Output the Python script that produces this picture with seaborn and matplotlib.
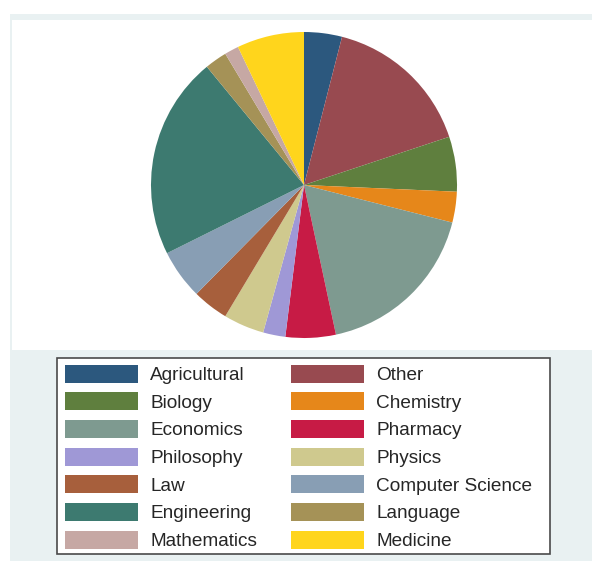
import matplotlib
matplotlib.use("Agg")
import matplotlib.pyplot as plt
from matplotlib.patches import Rectangle
import seaborn as sns

# Field shares (percent), clockwise from 12 o'clock
fields = ["Agricultural", "Other", "Biology", "Chemistry", "Economics",
          "Pharmacy", "Philosophy", "Physics", "Law", "Computer Science",
          "Engineering", "Language", "Mathematics", "Medicine"]
shares = [4.0, 15.9, 5.8, 3.25, 17.7, 5.3, 2.35, 4.3, 3.8, 5.25, 21.4, 2.35, 1.5, 7.1]
colors = ["#2C587E", "#984A50", "#5F7F3E", "#E6871A", "#7E9A90", "#C71B45",
          "#9F98D6", "#CFC98E", "#A75F3C", "#889EB4", "#3D7A70", "#A59257",
          "#C6A8A4", "#FFD51C"]

sns.set_theme(style="white")
plt.rcParams["font.family"] = ["Liberation Sans", "DejaVu Sans"]

W, H = 592, 561
fig = plt.figure(figsize=(W / 100, H / 100), dpi=100)
fig.patch.set_facecolor("white")


def px_rect(x0, y0, x1, y1, **kw):
    # rectangle given in pixel coords (origin top-left)
    r = Rectangle((x0 / W, 1 - y1 / H), (x1 - x0) / W, (y1 - y0) / H,
                  transform=fig.transFigure, **kw)
    fig.add_artist(r)
    return r


# graph region / plot region backgrounds
px_rect(10, 14, 592, 561, facecolor="#E9F1F2", edgecolor="none", zorder=0)
px_rect(12, 20, 592, 350, facecolor="white", edgecolor="none", zorder=0)
px_rect(57, 358, 550, 554, facecolor="white", edgecolor="#4A4A4A", linewidth=1.2, zorder=1)

# pie
cx, cy, r = 304, 185, 153
ax = fig.add_axes([(cx - r) / W, 1 - (cy + r) / H, 2 * r / W, 2 * r / H])
wedges, _ = ax.pie(shares, colors=sns.color_palette(colors), startangle=90,
                   counterclock=False, radius=1,
                   wedgeprops=dict(linewidth=0))
ax.set_xlim(-1, 1)
ax.set_ylim(-1, 1)
ax.set_aspect("equal")
ax.axis("off")
ax.patch.set_alpha(0)

# legend: two columns filled row by row
order = list(range(0, len(fields), 2)) + list(range(1, len(fields), 2))
fs = 13.7
leg = fig.legend([wedges[i] for i in order], [fields[i] for i in order],
                 ncol=2, loc="upper left", bbox_to_anchor=(65 / W, 1 - 364.5 / H),
                 frameon=False, fontsize=fs, borderpad=0, borderaxespad=0,
                 handlelength=3.85, handleheight=1.08, handletextpad=0.62,
                 labelspacing=0.43, columnspacing=1.8)
leg.set_zorder(2)

fig.savefig("out.png", dpi=100)
